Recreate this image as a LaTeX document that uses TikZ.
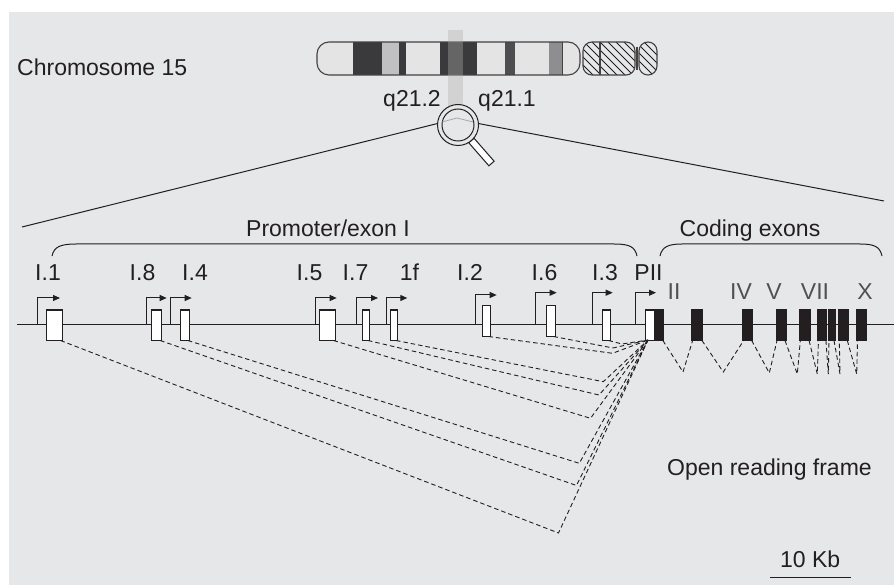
\documentclass[tikz,border=0pt]{standalone}
\usepackage{fontspec}
\setmainfont{Liberation Sans}
\usetikzlibrary{arrows.meta}
\definecolor{paper}{RGB}{230,231,232}
\definecolor{ink}{RGB}{35,31,32}
\definecolor{romangray}{RGB}{80,80,82}
\definecolor{lightband}{RGB}{228,228,229}
\definecolor{darkband}{RGB}{58,58,60}
\definecolor{midband}{RGB}{192,192,194}
\definecolor{greyband}{RGB}{142,142,144}
\definecolor{stripgray}{RGB}{176,176,176}

\begin{document}
\begin{tikzpicture}[x=1pt,y=-1pt,
  txt/.style={font=\fontsize{23}{27}\selectfont, text=ink, inner sep=0pt, anchor=base},
  exonnum/.style={txt, text=romangray},
  firstexon/.style={draw=ink, fill=white, line width=1pt, inner sep=0pt, minimum height=30pt},
  codexon/.style={draw=ink, fill=ink, line width=1pt, inner sep=0pt, minimum height=30pt},
  tss/.style={draw=ink, line width=1pt, -{Triangle[length=7pt,width=6pt]}},
  splice/.style={draw=ink, line width=0.9pt, dash pattern=on 4.5pt off 3pt},
  outline/.style={draw=ink, line width=1pt},
  chromo/.style={draw=ink!85, line width=1.1pt},
  hatch/.style={draw=ink, line width=0.8pt},
]
\useasboundingbox (0,0) rectangle (894,585);
\fill[paper] (9,12) rectangle (894,585);

% ---------- chromosome 15 ideogram ----------
\begin{scope}
  \clip[rounded corners=12pt] (317,42) rectangle (580,75);
  \fill[lightband] (317,42) rectangle (580,75);
  \fill[darkband] (353,42) rectangle (382,75);
  \fill[midband]  (382,42) rectangle (399,75);
  \fill[darkband] (399,42) rectangle (406,75);
  \fill[darkband] (440,42) rectangle (477,75);
  \fill[darkband!90] (505,42) rectangle (515,75);
  \fill[greyband] (549,42) rectangle (562,75);
  \draw[chromo, line width=0.8pt] (562,42) -- (562,75);
\end{scope}
\draw[chromo, rounded corners=12pt] (317,42) rectangle (580,75);

% centromere and short arm (hatched)
\begin{scope}
  \clip[rounded corners=9pt] (583,42) rectangle (635,75);
  \foreach \i in {0,...,12} \draw[hatch] (560+\i*8,42) -- ++(33,33);
\end{scope}
\draw[chromo, rounded corners=9pt] (583,42) rectangle (635,75);
\draw[chromo] (600,42) -- (600,75);
\draw[chromo] (637,47) -- (637,70);
\begin{scope}
  \clip[rounded corners=9pt] (639,42) rectangle (657,75);
  \foreach \i in {0,...,5} \draw[hatch] (620+\i*8,42) -- ++(33,33);
\end{scope}
\draw[chromo, rounded corners=9pt] (639,42) rectangle (657,75);

% highlighted band
\fill[stripgray, opacity=0.37] (448,30) rectangle (463,107);

\node[txt, anchor=base west] (chr) at (17,76) {Chromosome 15};
\node[txt] (q212) at (412,107) {q21.2};
\node[txt] (q211) at (507,107) {q21.1};

% ---------- magnifier ----------
\draw[outline, fill=white] (468.8,142.8) -- (488.9,165.8) -- (494.1,161.2) -- (474.0,138.2) -- cycle;
\node[circle, minimum size=41pt, inner sep=0pt] (mag) at (458,125) {};
\draw[outline, fill=paper] (458,125) circle[radius=20.5pt];
\draw[outline] (458,125) circle[radius=16pt];
\draw[gray!70, line width=0.8pt] (442,122) -- (457,118) -- (473,122);

\coordinate (zl) at (22,227);
\coordinate (zr) at (884,201);
\draw[outline] (mag.176) -- (zl);
\draw[outline] (mag.4) -- (zr);

% ---------- braces and headings ----------
\draw[outline] (52,256) .. controls (54,247) and (60,244) .. (76,244) -- (614,244) .. controls (630,244) and (635,247) .. (637,256);
\draw[outline] (660,256) .. controls (662,247) and (668,244) .. (682,244) -- (860,244) .. controls (875,244) and (880,247) .. (882,256);
\node[txt] (prom) at (328,237) {Promoter/exon I};
\node[txt] (cod) at (750,237) {Coding exons};

% ---------- gene line ----------
\coordinate (gl) at (17,324.5);
\coordinate (gr) at (894,324.5);
\draw[outline] (gl) -- (gr);

% first exons
\node[firstexon, minimum width=16pt]  (x11) at (54,325) {};
\node[firstexon, minimum width=10pt]  (x18) at (156.7,325) {};
\node[firstexon, minimum width=9.3pt] (x14) at (184.7,325) {};
\node[firstexon, minimum width=16pt]  (x15) at (327,325) {};
\node[firstexon, minimum width=7pt]   (x17) at (366,325) {};
\node[firstexon, minimum width=7pt]   (x1f) at (394,325) {};
\node[firstexon, minimum width=8pt]   (x12) at (486,321) {};
\node[firstexon, minimum width=9pt]   (x16) at (550.5,321) {};
\node[firstexon, minimum width=8pt]   (x13) at (606,325) {};
\node[firstexon, minimum width=8.6pt] (xp)  at (650,325) {};
\node[codexon, minimum width=9.7pt]   (c1)  at (659,325) {};

% coding exons
\node[codexon, minimum width=11.3pt] (c2) at (697.3,325) {};
\node[codexon, minimum width=10pt]   (c3) at (747.7,325) {};
\node[codexon, minimum width=10pt]   (c4) at (781,325) {};
\node[codexon, minimum width=10.7pt] (c5) at (804.7,325) {};
\node[codexon, minimum width=9.5pt]  (c6) at (822.2,325) {};
\node[codexon, minimum width=7pt]    (c7) at (831.5,325) {};
\node[codexon, minimum width=10pt]   (c8) at (843.3,325) {};
\node[codexon, minimum width=10.2pt] (c9) at (861.6,325) {};

% transcription start arrows
\foreach \n/\x/\h/\l in {11/37.7/26.5/22.3, 18/146/26.5/20.7, 14/170.7/26.5/21, 15/315/26.5/21.7,
                        17/356.7/26.5/21.3, 1f/386/26.5/21.3, 12/475.7/29.5/21, 16/535.7/31.8/21,
                        13/592.3/31.8/20.4, p/635/31.8/21}{
  \coordinate (t\n) at (\x,324.5);
  \draw[tss] (t\n) -- ++(0,-\h) -- ++(\l,0);
}

% exon labels
\node[txt] (l11) at (48,280) {I.1};
\node[txt] (l18) at (142.5,280) {I.8};
\node[txt] (l14) at (195,280) {I.4};
\node[txt] (l15) at (309.5,280) {I.5};
\node[txt] (l17) at (355.5,280) {I.7};
\node[txt] (l1f) at (409.5,280) {1f};
\node[txt] (l12) at (470,280) {I.2};
\node[txt] (l16) at (544.5,280) {I.6};
\node[txt] (l13) at (605,280) {I.3};
\node[txt] (lp)  at (648.5,280) {PII};

\node[exonnum] (r2)  at (674,299) {II};
\node[exonnum] (r4)  at (741,299) {IV};
\node[exonnum] (r5)  at (774,299) {V};
\node[exonnum] (r7)  at (815,299) {VII};
\node[exonnum] (r10) at (865,299) {X};

% splicing of alternative first exons onto exon II
\coordinate (acc) at (648,340);
\foreach \n/\vx/\vy in {11/558.5/533, 18/576.5/485.5, 14/579.3/463.3, 15/590.5/418.3,
                        17/599/395, 1f/603.3/381.7, 12/612.5/353.3, 16/613/348, 13/622/344}{
  \coordinate (v\n) at (\vx,\vy);
  \draw[splice] ([xshift=-2pt]x\n.south east) -- (v\n) -- (acc);
}

% splicing between coding exons
\foreach \a/\b/\vx/\vy in {c1/c2/683/372, c2/c3/723.3/372, c3/c4/769.3/373, c4/c5/797.3/374,
                           c5/c6/817.3/374, c6/c7/828.3/374, c7/c8/840/374, c8/c9/856.7/374}{
  \coordinate (s\a) at (\vx,\vy);
  \draw[splice] ([xshift=-1.5pt]\a.south east) -- (s\a) -- ([xshift=1.5pt]\b.south west);
}

\node[txt, anchor=base west] (orf) at (667,475) {Open reading frame};

% scale bar
\node[txt, anchor=base west] (kb) at (780,567) {10 Kb};
\coordinate (sb1) at (770,577);
\coordinate (sb2) at (851,577);
\draw[outline] (sb1) -- (sb2);
\end{tikzpicture}
\end{document}
